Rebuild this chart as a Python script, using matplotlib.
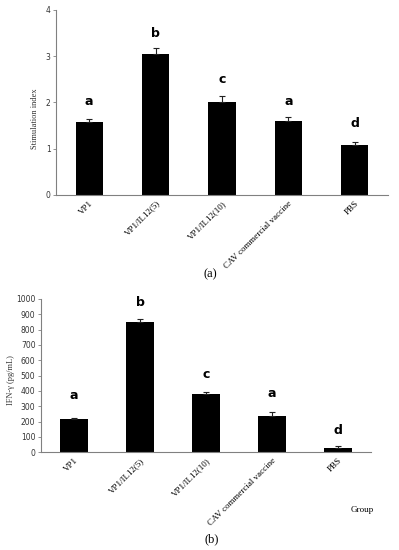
import matplotlib
matplotlib.use("Agg")
import matplotlib.pyplot as plt
import numpy as np

groups = ["VP1", "VP1/IL12(5)", "VP1/IL12(10)", "CAV commercial vaccine", "PBS"]
si_values = [1.57, 3.05, 2.02, 1.61, 1.07]
si_errors = [0.07, 0.12, 0.11, 0.07, 0.08]
si_letters = ["a", "b", "c", "a", "d"]
si_letter_y = [2.02, 3.50, 2.50, 2.02, 1.55]

ifn_values = [217, 848, 380, 239, 28]
ifn_errors = [9, 22, 15, 22, 13]
ifn_letters = ["a", "b", "c", "a", "d"]
ifn_letter_y = [372, 980, 505, 385, 140]

fig = plt.figure(figsize=(3.99, 5.5), dpi=100)
serif = ["Liberation Serif", "DejaVu Serif"]
spine_c = "#808080"

def style(ax):
    for s in ["top", "right"]:
        ax.spines[s].set_visible(False)
    for s in ["left", "bottom"]:
        ax.spines[s].set_color(spine_c)
        ax.spines[s].set_linewidth(0.8)
    ax.tick_params(axis="y", labelsize=5.5, length=2, width=0.6, color=spine_c, pad=2, labelcolor="#333333")
    ax.tick_params(axis="x", length=0, pad=3)

# Panel (a)
ax1 = fig.add_axes([0.1404, 0.6455, 0.832, 0.3364])
x = np.arange(len(groups))
ax1.bar(x, si_values, width=0.41, color="black",
        yerr=[np.zeros(len(si_errors)), si_errors], error_kw=dict(ecolor="#222222", elinewidth=0.8, capsize=2, capthick=0.8))
ax1.set_xlim(-0.5, len(groups) - 0.5)
ax1.set_ylim(0, 4)
ax1.set_yticks([0, 1, 2, 3, 4])
ax1.set_xticks(x)
ax1.set_xticklabels(groups, rotation=45, ha="right", rotation_mode="anchor", fontsize=6.5, family=serif)
ax1.set_ylabel("Stimulation index", fontsize=6, family=serif, color="#333333")
ax1.yaxis.set_label_coords(-0.05, 0.41)
for xi, l, ly in zip(x, si_letters, si_letter_y):
    ax1.text(xi, ly, l, ha="center", va="center", fontsize=9, fontweight="bold")
style(ax1)
fig.text(0.527, 1 - 274 / 550, "(a)", ha="center", va="center", fontsize=9, family=serif)

# Panel (b)
ax2 = fig.add_axes([0.1028, 0.1776, 0.827, 0.2788])
ax2.bar(x, ifn_values, width=0.41, color="black",
        yerr=[np.zeros(len(ifn_errors)), ifn_errors], error_kw=dict(ecolor="#222222", elinewidth=0.8, capsize=2, capthick=0.8))
ax2.set_xlim(-0.5, len(groups) - 0.5)
ax2.set_ylim(0, 1000)
ax2.set_yticks(np.arange(0, 1001, 100))
ax2.set_xticks(x)
ax2.set_xticklabels(groups, rotation=45, ha="right", rotation_mode="anchor", fontsize=6.5, family=serif)
ax2.set_ylabel("IFN-γ (pg/mL)", fontsize=6, family=serif, color="#333333")
ax2.yaxis.set_label_coords(-0.08, 0.47)
for xi, l, ly in zip(x, ifn_letters, ifn_letter_y):
    ax2.text(xi, ly, l, ha="center", va="center", fontsize=9, fontweight="bold")
style(ax2)
fig.text(362 / 399, 1 - 510 / 550, "Group", ha="center", va="center", fontsize=6.5, family=serif)
fig.text(0.531, 1 - 539 / 550, "(b)", ha="center", va="center", fontsize=9, family=serif)

fig.savefig("out.png", dpi=100)
